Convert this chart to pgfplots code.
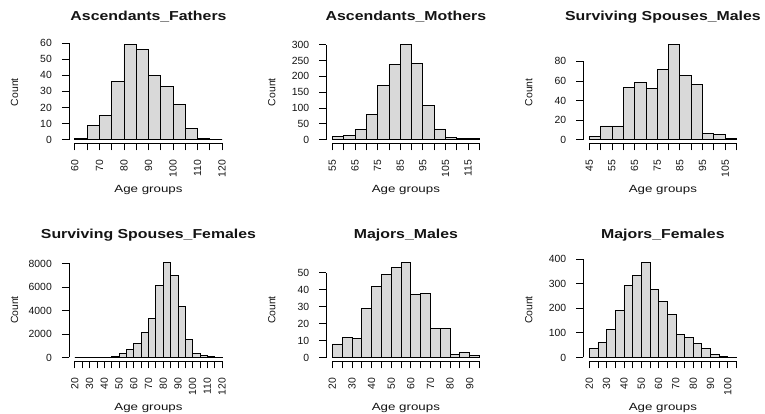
\documentclass[border=0pt]{standalone}
\usepackage{pgfplots}
\pgfplotsset{compat=1.18}
\usepackage{fontspec}
\setmainfont{Liberation Sans}
\definecolor{barfill}{HTML}{D9D9D9}
\definecolor{txt}{HTML}{141414}
\newcommand\tfont{\fontsize{10.4bp}{12bp}\selectfont}
\newcommand\hs[2]{\scalebox{#1}[1]{#2}}
\pgfplotsset{
  rpanel/.style={
    scale only axis, width=159bp, height=102.6bp,
    axis x line*=bottom, axis y line*=left,
    axis line style={draw=none},
    tick align=outside,
    major tick length=7bp,
    tick style={black, line width=0.8bp},
    x tick label as interval=false,
    xticklabel style={rotate=90, anchor=east, font=\tfont, text=txt, inner sep=0pt},
    yticklabel style={anchor=east, font=\tfont, text=txt, inner sep=0pt},
    xticklabel shift=9.5bp,
    yticklabel shift=10bp,
    title style={at={(axis description cs:0.5,1.141)}, anchor=base, font=\bfseries\fontsize{13bp}{15bp}\selectfont, text=txt, inner sep=0pt},
    xlabel style={at={(axis description cs:0.5,-0.4776)}, anchor=base, font=\tfont, text=txt, inner sep=0pt},
    ylabel style={at={(axis description cs:-0.3428,0.5)}, anchor=center, font=\tfont, text=txt, inner sep=0pt},
    xlabel={\hs{1.28}{Age groups}},
    ylabel={Count},
    clip=false,
  },
  histbar/.style={ybar interval, fill=barfill, draw=black, line width=0.8bp},
}
\begin{document}
\begin{tikzpicture}
\useasboundingbox (0,0) rectangle (765bp,414bp);
% ---------------- Panel 1
\begin{axis}[rpanel, at={(69bp,270.5bp)}, anchor=south west,
  title={\hs{1.22}{Ascendants\_Fathers}},
  xmin=57.6, xmax=122.4, ymin=-2.36, ymax=61.36,
  xtick={60,65,...,120},
  xticklabels={60,{},70,{},80,{},90,{},100,{},110,{},120},
  ytick={0,10,20,30,40,50,60},
  yticklabels={0,10,20,30,40,50,60}]
\addplot[histbar] coordinates {(60,1)(65,9)(70,15)(75,36)(80,59)(85,56)(90,40)(95,33)(100,22)(105,7)(110,1)(115,0)(120,0)};
\draw[line width=0.8bp] (axis cs:60,-2.36) -- (axis cs:120,-2.36);
\draw[line width=0.8bp] (axis cs:57.6,0) -- (axis cs:57.6,60);
\end{axis}
% ---------------- Panel 2
\begin{axis}[rpanel, at={(326.4bp,270.5bp)}, anchor=south west,
  title={\hs{1.22}{Ascendants\_Mothers}},
  xmin=52.4, xmax=122.6, ymin=-12, ymax=312,
  xtick={55,60,...,120},
  xticklabels={55,{},65,{},75,{},85,{},95,{},105,{},115,{}},
  ytick={0,50,100,150,200,250,300},
  yticklabels={0,50,100,150,200,250,300}]
\addplot[histbar] coordinates {(55,10)(60,13)(65,31)(70,81)(75,170)(80,238)(85,300)(90,242)(95,108)(100,34)(105,8)(110,4)(115,3)(120,3)};
\draw[line width=0.8bp] (axis cs:55,-12) -- (axis cs:120,-12);
\draw[line width=0.8bp] (axis cs:52.4,0) -- (axis cs:52.4,300);
\end{axis}
% ---------------- Panel 3
\begin{axis}[rpanel, at={(583.4bp,270.5bp)}, anchor=south west,
  title={\hs{1.22}{Surviving Spouses\_Males}},
  xmin=42.4, xmax=112.6, ymin=-3.88, ymax=100.88,
  xtick={45,50,...,110},
  xticklabels={45,{},55,{},65,{},75,{},85,{},95,{},105,{}},
  ytick={0,20,40,60,80},
  yticklabels={0,20,40,60,80}]
\addplot[histbar] coordinates {(45,3)(50,14)(55,14)(60,53)(65,58)(70,52)(75,72)(80,97)(85,66)(90,56)(95,6)(100,5)(105,1)(110,1)};
\draw[line width=0.8bp] (axis cs:45,-3.88) -- (axis cs:110,-3.88);
\draw[line width=0.8bp] (axis cs:42.4,0) -- (axis cs:42.4,80);
\end{axis}
% ---------------- Panel 4
\begin{axis}[rpanel, at={(69bp,52.7bp)}, anchor=south west,
  title={\hs{1.22}{Surviving Spouses\_Females}},
  xmin=16, xmax=124, ymin=-323.4, ymax=8408.4,
  xtick={20,25,...,120},
  xticklabels={20,{},30,{},40,{},50,{},60,{},70,{},80,{},90,{},100,{},110,{},120},
  ytick={0,2000,4000,6000,8000},
  yticklabels={0,2000,4000,6000,8000}]
\addplot[histbar] coordinates {(20,0)(25,0)(30,1)(35,3)(40,10)(45,110)(50,310)(55,650)(60,1220)(65,2130)(70,3350)(75,6100)(80,8085)(85,7000)(90,4340)(95,1530)(100,310)(105,140)(110,55)(115,5)(120,5)};
\draw[line width=0.8bp] (axis cs:20,-323.4) -- (axis cs:120,-323.4);
\draw[line width=0.8bp] (axis cs:16,0) -- (axis cs:16,8000);
\end{axis}
% ---------------- Panel 5
\begin{axis}[rpanel, at={(326.4bp,52.7bp)}, anchor=south west,
  title={\hs{1.22}{Majors\_Males}},
  xmin=17, xmax=98, ymin=-2.24, ymax=58.24,
  xtick={20,25,...,95},
  xticklabels={20,{},30,{},40,{},50,{},60,{},70,{},80,{},90,{}},
  ytick={0,10,20,30,40,50},
  yticklabels={0,10,20,30,40,50}]
\addplot[histbar] coordinates {(20,8)(25,12)(30,11)(35,29)(40,42)(45,49)(50,53)(55,56)(60,37)(65,38)(70,17)(75,17)(80,2)(85,3)(90,1)(95,1)};
\draw[line width=0.8bp] (axis cs:20,-2.24) -- (axis cs:95,-2.24);
\draw[line width=0.8bp] (axis cs:17,0) -- (axis cs:17,50);
\end{axis}
% ---------------- Panel 6
\begin{axis}[rpanel, at={(583.4bp,52.7bp)}, anchor=south west,
  title={\hs{1.22}{Majors\_Females}},
  xmin=16.6, xmax=108.4, ymin=-15.44, ymax=401.44,
  xtick={20,25,...,105},
  xticklabels={20,{},30,{},40,{},50,{},60,{},70,{},80,{},90,{},100,{}},
  ytick={0,100,200,300,400},
  yticklabels={0,100,200,300,400}]
\addplot[histbar] coordinates {(20,38)(25,61)(30,114)(35,191)(40,292)(45,332)(50,386)(55,278)(60,226)(65,175)(70,94)(75,81)(80,57)(85,37)(90,11)(95,5)(100,1)(105,1)};
\draw[line width=0.8bp] (axis cs:20,-15.44) -- (axis cs:105,-15.44);
\draw[line width=0.8bp] (axis cs:16.6,0) -- (axis cs:16.6,400);
\end{axis}
\end{tikzpicture}
\end{document}
